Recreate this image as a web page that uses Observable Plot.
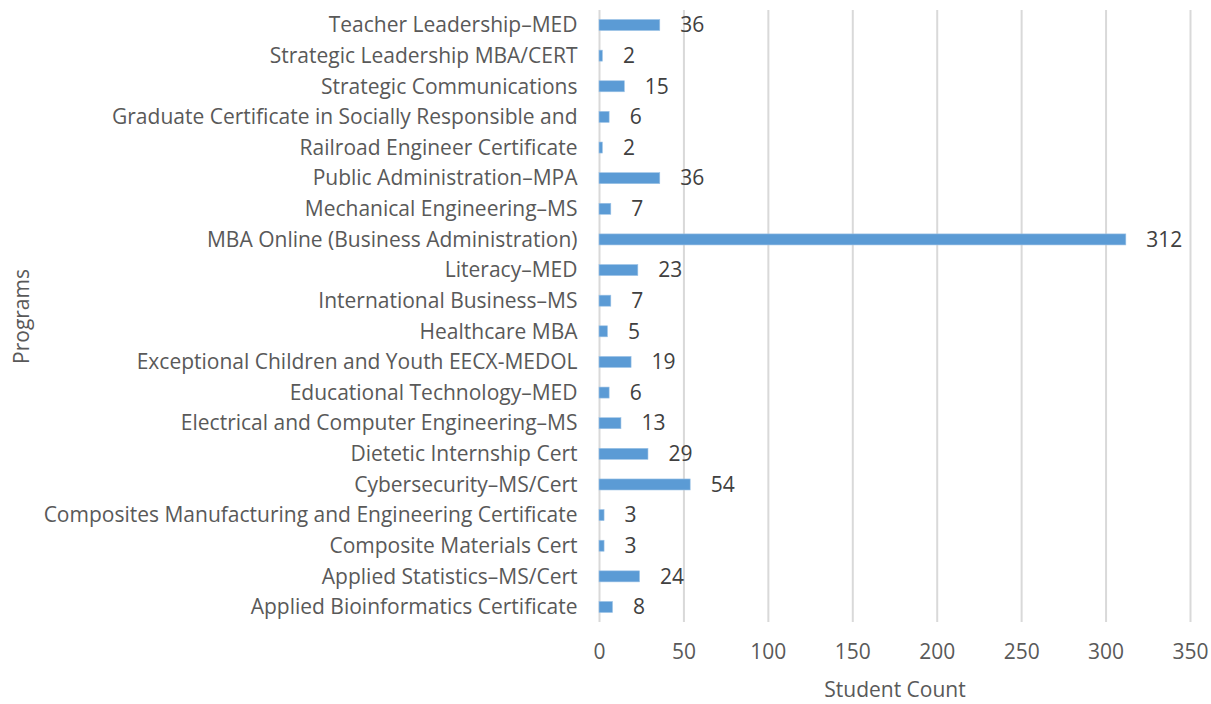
<!DOCTYPE html>
<html>
<head>
<meta charset="utf-8">
<script src="https://cdn.jsdelivr.net/npm/d3@7"></script>
<script src="https://cdn.jsdelivr.net/npm/@observablehq/plot@0.6"></script>
<style>
  html, body { margin: 0; padding: 0; background: #fff; }
  #chart svg { display: block; }
</style>
</head>
<body>
<div id="chart"></div>
<script>
const programs = [
  "Teacher Leadership–MED",
  "Strategic Leadership MBA/CERT",
  "Strategic Communications",
  "Graduate Certificate in Socially Responsible and",
  "Railroad Engineer Certificate",
  "Public Administration–MPA",
  "Mechanical Engineering–MS",
  "MBA Online (Business Administration)",
  "Literacy–MED",
  "International Business–MS",
  "Healthcare MBA",
  "Exceptional Children and Youth EECX-MEDOL",
  "Educational Technology–MED",
  "Electrical and Computer Engineering–MS",
  "Dietetic Internship Cert",
  "Cybersecurity–MS/Cert",
  "Composites Manufacturing and Engineering Certificate",
  "Composite Materials Cert",
  "Applied Statistics–MS/Cert",
  "Applied Bioinformatics Certificate"
];
const studentCounts = [36, 2, 15, 6, 2, 36, 7, 312, 23, 7, 5, 19, 6, 13, 29, 54, 3, 3, 24, 8];
const xTicks = [0, 50, 100, 150, 200, 250, 300, 350];

const data = programs.map((p, i) => ({program: p, count: studentCounts[i]}));

const chart = Plot.plot({
  width: 1211,
  height: 704,
  marginLeft: 599,
  marginRight: 21,
  marginTop: 10,
  marginBottom: 82,
  style: {fontFamily: "'Open Sans', sans-serif", fontSize: "21px", color: "#595959", background: "#fff"},
  x: {domain: [0, 350], ticks: xTicks, label: null},
  y: {domain: programs, paddingInner: 0.64, paddingOuter: 0.31, round: false, label: null},
  marks: [
    Plot.ruleX(xTicks, {stroke: "#d9d9d9", strokeWidth: 2}),
    Plot.barX(data, {x: "count", y: "program", fill: "#5b9bd5", stroke: "#9dc3e6", strokeWidth: 0.6}),
    Plot.text(data, {x: "count", y: "program", text: d => String(d.count), dx: 20, textAnchor: "start", fill: "#404040", fontSize: 21}),
    Plot.axisX(xTicks, {tickSize: 0, tickPadding: 22, fontSize: 21, fill: "#595959", label: null}),
    Plot.axisY({tickSize: 0, tickPadding: 22, fontSize: 21, fill: "#595959", label: null}),
    Plot.text(["Student Count"], {frameAnchor: "bottom", lineAnchor: "middle", textAnchor: "middle", dy: 68, fontSize: 21, fill: "#595959"}),
    Plot.text(["Programs"], {frameAnchor: "left", textAnchor: "middle", lineAnchor: "middle", dx: -577, rotate: -90, fontSize: 21, fill: "#595959"})
  ]
});
document.getElementById("chart").appendChild(chart);
</script>
</body>
</html>
